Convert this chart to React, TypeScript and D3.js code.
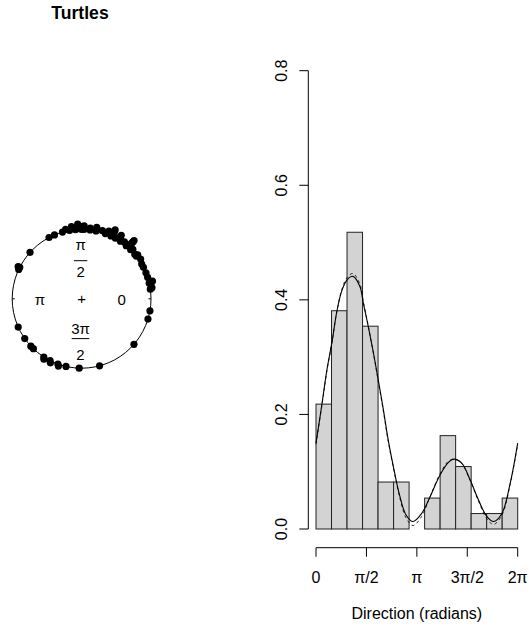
import React from 'react';
import * as d3 from 'd3';

// Turtle headings (degrees) shown as points on the circle
const directionsDeg = [
  8, 9, 13, 13, 14, 18, 22, 27, 30, 34, 38, 38, 40, 44, 45, 47, 48, 48, 48, 48,
  50, 53, 56, 57, 58, 58, 61, 63, 64, 64, 64, 65, 65, 68, 70, 73, 78, 78, 78, 83,
  83, 88, 88, 88, 90, 92, 92, 93, 95, 96, 98, 100, 103, 106, 113, 118, 138, 153, 153, 155,
  204, 215, 223, 226, 237, 238, 243, 244, 250, 251, 257, 268, 285, 319, 343, 350,
];

// Histogram densities (13 equal bins over 0..2π)
const histDensity = [0.218, 0.381, 0.518, 0.354, 0.082, 0.082, 0, 0.054, 0.163, 0.109, 0.027, 0.027, 0.054];
const binCount = 13;

// Density curves
const curveAngles = [0, 0.19, 0.34, 0.5, 0.65, 0.81, 0.97, 1.15, 1.37, 1.475, 1.63, 1.79, 1.94, 2.1, 2.25, 2.41, 2.6, 2.8, 3.02, 3.29, 3.55, 3.86, 4.12, 4.3, 4.54, 4.8, 5.06, 5.32, 5.53, 5.79, 6.05, 6.283];
const solidDensity = [0.15, 0.22, 0.278, 0.327, 0.38, 0.417, 0.435, 0.441, 0.423, 0.394, 0.353, 0.307, 0.26, 0.208, 0.155, 0.109, 0.06, 0.025, 0.013, 0.027, 0.056, 0.094, 0.116, 0.122, 0.115, 0.086, 0.051, 0.022, 0.013, 0.027, 0.08, 0.15];
const dashedDensity = [0.148, 0.218, 0.276, 0.326, 0.38, 0.419, 0.439, 0.446, 0.427, 0.397, 0.354, 0.306, 0.258, 0.205, 0.153, 0.107, 0.057, 0.02, 0.006, 0.022, 0.056, 0.096, 0.118, 0.122, 0.114, 0.085, 0.049, 0.018, 0.008, 0.024, 0.078, 0.148];

const xTickValues = [0, Math.PI / 2, Math.PI, (3 * Math.PI) / 2, 2 * Math.PI];
const xTickLabels = ['0', 'π/2', 'π', '3π/2', '2π'];
const yTickValues = [0, 0.2, 0.4, 0.6, 0.8];
const yTickLabels = ['0.0', '0.2', '0.4', '0.6', '0.8'];

const FONT = '"Liberation Sans", Arial, Helvetica, sans-serif';

export default function App() {
  const W = 529, H = 627;
  const x = d3.scaleLinear().domain([0, 2 * Math.PI]).range([316, 517.7]);
  const y = d3.scaleLinear().domain([0, 0.8]).range([529, 70.7]);

  const breaks = d3.range(binCount + 1).map((i) => (i * 2 * Math.PI) / binCount);

  const line = d3
    .line<number>()
    .x((_, i) => x(curveAngles[i]))
    .curve(d3.curveCatmullRom.alpha(0.5));
  const solidPath = line.y((d) => y(d))(solidDensity) || '';
  const dashedPath = line.y((d) => y(d))(dashedDensity) || '';

  // circular plot
  const cx = 81.6, cy = 298.8, R = 69.4;
  const sep = 1.8;
  const binDeg = 5;
  const counts = new Map<number, number>();
  const dots = directionsDeg.map((deg) => {
    const b = Math.floor(deg / binDeg);
    const k = counts.get(b) || 0;
    counts.set(b, k + 1);
    const rr = R + k * sep;
    const a = (deg * Math.PI) / 180;
    return { x: cx + rr * Math.cos(a), y: cy - rr * Math.sin(a) };
  });

  const circFont = 15;

  return (
    <svg width={W} height={H} style={{ position: 'absolute', left: 0, top: 0, background: '#fff' }} fontFamily={FONT}>
      <rect x={0} y={0} width={W} height={H} fill="#fff" />
      {/* Title */}
      <text x={80} y={19.3} textAnchor="middle" fontWeight="bold" fontSize={17.6}>Turtles</text>

      {/* Circle plot */}
      <circle cx={cx} cy={cy} r={R} fill="none" stroke="#000" strokeWidth={1} />
      {[0, 90, 180, 270].map((d) => {
        const a = (d * Math.PI) / 180;
        return (
          <line key={d} x1={cx + R * Math.cos(a)} y1={cy - R * Math.sin(a)} x2={cx + (R - 2.5) * Math.cos(a)} y2={cy - (R - 2.5) * Math.sin(a)} stroke="#000" strokeWidth={1} />
        );
      })}
      {dots.map((p, i) => (
        <circle key={i} cx={p.x} cy={p.y} r={3.6} fill="#000" />
      ))}
      <text x={cx} y={cy + 5} textAnchor="middle" fontSize={circFont}>+</text>
      <text x={121.7} y={305.3} textAnchor="middle" fontSize={circFont}>0</text>
      <text x={40} y={304.5} textAnchor="middle" fontSize={circFont}>π</text>
      <text x={80.6} y={249.5} textAnchor="middle" fontSize={circFont}>π</text>
      <line x1={74} x2={87.3} y1={260.7} y2={260.7} stroke="#000" strokeWidth={1} />
      <text x={80.6} y={277} textAnchor="middle" fontSize={circFont}>2</text>
      <text x={80.5} y={333.5} textAnchor="middle" fontSize={circFont}>3π</text>
      <line x1={71.7} x2={89.3} y1={338.6} y2={338.6} stroke="#000" strokeWidth={1} />
      <text x={80.5} y={359.5} textAnchor="middle" fontSize={circFont}>2</text>

      {/* Histogram bars */}
      {histDensity.map((v, i) => (
        <rect key={i} x={x(breaks[i])} y={y(v)} width={x(breaks[i + 1]) - x(breaks[i])} height={y(0) - y(v)} fill="#d3d3d3" stroke="#222" strokeWidth={1} />
      ))}

      {/* density curves */}
      <path d={dashedPath} fill="none" stroke="#000" strokeWidth={1} strokeDasharray="3,3" opacity={0.8} />
      <path d={solidPath} fill="none" stroke="#000" strokeWidth={1.1} />

      {/* y axis */}
      <line x1={308.3} x2={308.3} y1={y(0)} y2={y(0.8)} stroke="#000" />
      {yTickValues.map((v, i) => (
        <g key={v}>
          <line x1={299.3} x2={308.3} y1={y(v)} y2={y(v)} stroke="#000" />
          <text transform={`translate(287.3,${y(v)}) rotate(-90)`} textAnchor="middle" fontSize={16}>{yTickLabels[i]}</text>
        </g>
      ))}

      {/* x axis */}
      <line x1={x(0)} x2={x(2 * Math.PI)} y1={547.7} y2={547.7} stroke="#000" />
      {xTickValues.map((v, i) => (
        <g key={i}>
          <line x1={x(v)} x2={x(v)} y1={547.7} y2={556.7} stroke="#000" />
          <text x={x(v)} y={583} textAnchor="middle" fontSize={16}>{xTickLabels[i]}</text>
        </g>
      ))}
      <text x={x(Math.PI)} y={619} textAnchor="middle" fontSize={16}>Direction (radians)</text>
    </svg>
  );
}
